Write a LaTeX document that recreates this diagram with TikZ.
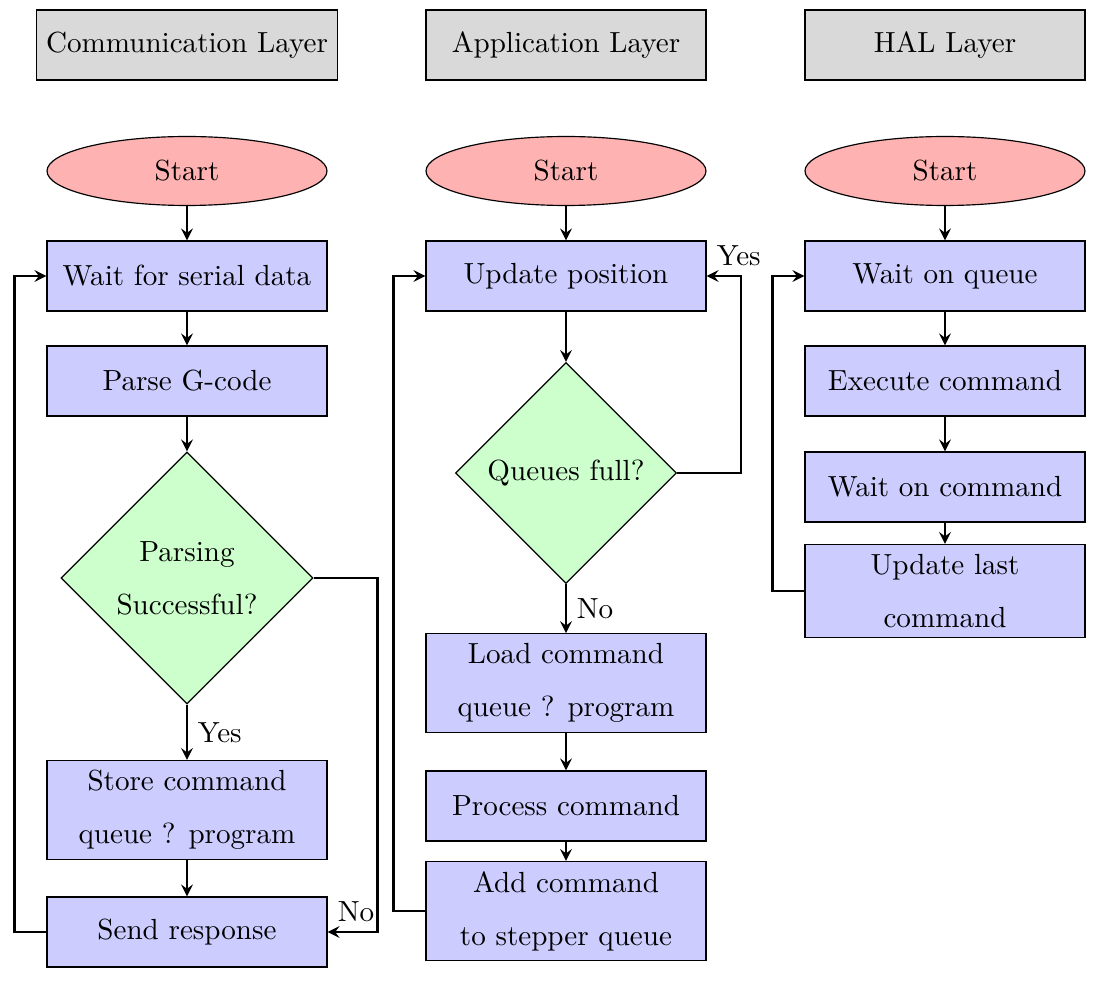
\documentclass[tikz,border=0pt]{standalone}
\usepackage{xcolor}
\usepackage{tikz}
\usetikzlibrary{shapes,arrows}
\tikzstyle{layer} = [rectangle, minimum width=96.2pt, minimum height=24.05pt, draw=black, fill=gray!30]
\tikzstyle{startstop} = [ellipse, minimum width=96.2pt, minimum height=23.7pt, draw=black, fill=red!30]
\tikzstyle{process} = [rectangle, minimum width=96.2pt, minimum height=24.05pt, align=center, draw=black, fill=blue!20]
\tikzstyle{decision} = [diamond, inner sep=0pt, align=center, draw=black, fill=green!20]
\tikzstyle{arrow} = [thick,->,>=stealth]

\begin{document}
\begin{tikzpicture}[x=0.3436pt, y=-0.3436pt]
    \useasboundingbox (0,0) rectangle (1105,982);

    % layer headers
    \node[layer] (commlayer) at (187,45) {Communication Layer};
    \node[layer] (applayer) at (566,45) {Application Layer};
    \node[layer] (hallayer) at (945,45) {HAL Layer};

    % communication layer
    \node[startstop] (commstart) at (187,171) {Start};
    \node[process] (wait) at (187,276) {Wait for serial data};
    \node[process] (parse) at (187,381) {Parse G-code};
    \node[decision, minimum width=86.6pt, minimum height=86.6pt] (parsed) at (187,578) {Parsing\\[6.2pt]Successful?};
    \node[process] (store) at (187,810) {Store command\\[6.2pt]queue ? program};
    \node[process] (send) at (187,932) {Send response};

    \draw[arrow] (commstart) -- (wait);
    \draw[arrow] (wait) -- (parse);
    \draw[arrow] (parse) -- (parsed);
    \draw[arrow] (parsed) -- node[right] {Yes} (store);
    \draw[arrow] (store) -- (send);
    \draw[arrow] (parsed.east) -- ++(64,0) |- (send.east);
    \node[above right] at (send.east) {No};
    \draw[arrow] (send.west) -- ++(-32,0) |- (wait.west);

    % application layer
    \node[startstop] (appstart) at (566,171) {Start};
    \node[process] (update) at (566,276) {Update position};
    \node[decision, minimum width=75.9pt, minimum height=75.9pt] (full) at (566,473) {Queues full?};
    \node[process] (load) at (566,683) {Load command\\[6.2pt]queue ? program};
    \node[process] (process) at (566,806) {Process command};
    \node[process] (add) at (566,911) {Add command\\[6.2pt]to stepper queue};

    \draw[arrow] (appstart) -- (update);
    \draw[arrow] (update) -- (full);
    \draw[arrow] (full) -- node[right] {No} (load);
    \draw[arrow] (load) -- (process);
    \draw[arrow] (process) -- (add);
    \draw[arrow] (full.east) -- ++(64,0) |- (update.east);
    \node[above right] at (update.east) {Yes};
    \draw[arrow] (add.west) -- ++(-32,0) |- (update.west);

    % HAL layer
    \node[startstop] (halstart) at (945,171) {Start};
    \node[process] (waitqueue) at (945,276) {Wait on queue};
    \node[process] (execute) at (945,381) {Execute command};
    \node[process] (waitcmd) at (945,487) {Wait on command};
    \node[process] (last) at (945,591) {Update last\\[6.2pt]command};

    \draw[arrow] (halstart) -- (waitqueue);
    \draw[arrow] (waitqueue) -- (execute);
    \draw[arrow] (execute) -- (waitcmd);
    \draw[arrow] (waitcmd) -- (last);
    \draw[arrow] (last.west) -- ++(-32,0) |- (waitqueue.west);

\end{tikzpicture}
\end{document}
